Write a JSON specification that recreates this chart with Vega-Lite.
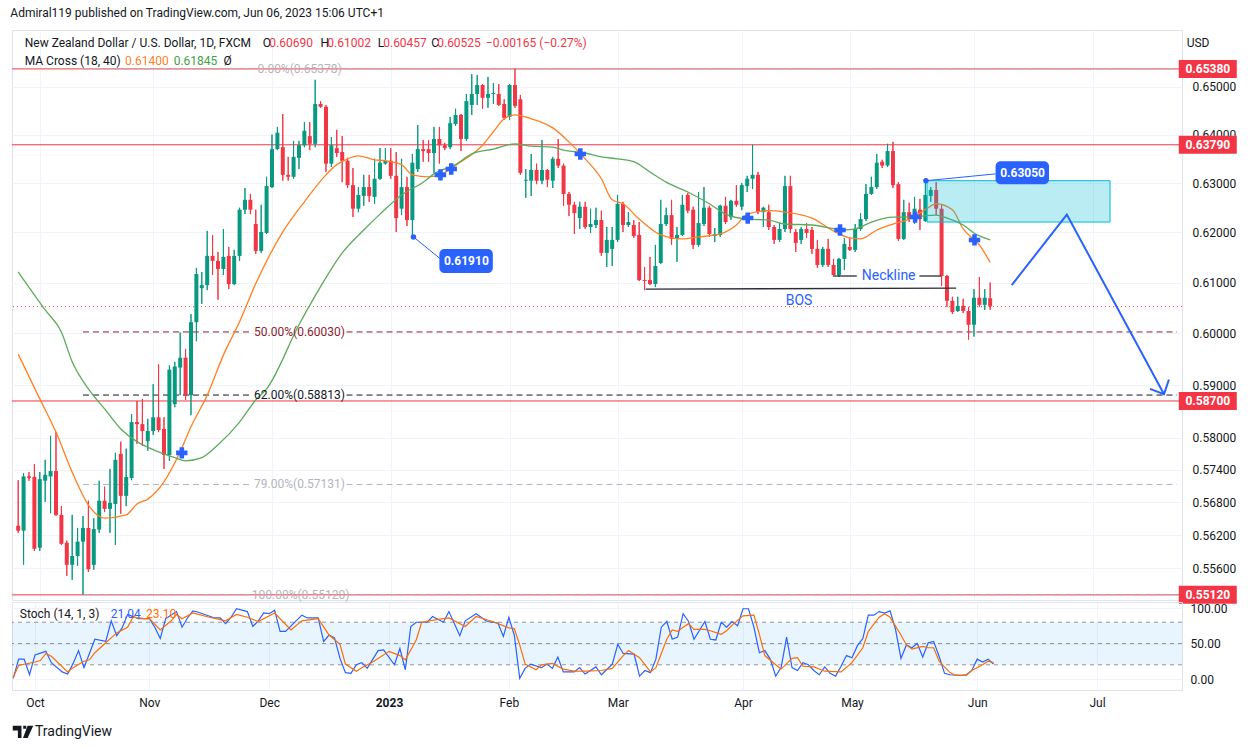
{
  "$schema": "https://vega.github.io/schema/vega-lite/v6.json",
  "description": "NZD/USD daily candles with MA cross, fibonacci levels, trade idea annotations and a stochastic panel",
  "background": "#ffffff",
  "padding": {"left": 10, "top": 6, "right": 0, "bottom": 0},
  "bounds": "flush",
  "spacing": 2,
  "title": {
    "text": "Admiral119 published on TradingView.com, Jun 06, 2023 15:06 UTC+1",
    "anchor": "start", "fontSize": 12, "fontWeight": "normal", "color": "#131722", "font": "Roboto", "offset": 10
  },
  "config": {
    "view": {"stroke": "#e0e3eb"},
    "axis": {"labelFont": "Roboto", "labelFontSize": 12, "labelColor": "#131722", "domain": false, "ticks": false, "tickSize": 0, "gridColor": "#f0f3fa", "gridWidth": 1},
    "text": {"font": "Roboto"}
  },
  "datasets": {
    "candles": [
      {"i":-4,"o":0.5637,"h":0.5721,"l":0.5624,"c":0.5628},
      {"i":-3,"o":0.5628,"h":0.5734,"l":0.5566,"c":0.5728},
      {"i":-2,"o":0.5728,"h":0.5736,"l":0.5720,"c":0.5725},
      {"i":-1,"o":0.5727,"h":0.5751,"l":0.5591,"c":0.5595},
      {"i":0,"o":0.5597,"h":0.5736,"l":0.5591,"c":0.5723},
      {"i":1,"o":0.5720,"h":0.5759,"l":0.5681,"c":0.5731},
      {"i":2,"o":0.5728,"h":0.5804,"l":0.5660,"c":0.5738},
      {"i":3,"o":0.5738,"h":0.5811,"l":0.5655,"c":0.5657},
      {"i":4,"o":0.5657,"h":0.5673,"l":0.5602,"c":0.5604},
      {"i":5,"o":0.5606,"h":0.5610,"l":0.5546,"c":0.5566},
      {"i":6,"o":0.5566,"h":0.5657,"l":0.5539,"c":0.5582},
      {"i":7,"o":0.5582,"h":0.5633,"l":0.5564,"c":0.5608},
      {"i":8,"o":0.5608,"h":0.5655,"l":0.5512,"c":0.5633},
      {"i":9,"o":0.5633,"h":0.5683,"l":0.5553,"c":0.5558},
      {"i":10,"o":0.5566,"h":0.5651,"l":0.5557,"c":0.5631},
      {"i":11,"o":0.5630,"h":0.5720,"l":0.5624,"c":0.5683},
      {"i":12,"o":0.5683,"h":0.5709,"l":0.5662,"c":0.5668},
      {"i":13,"o":0.5668,"h":0.5742,"l":0.5624,"c":0.5679},
      {"i":14,"o":0.5677,"h":0.5772,"l":0.5602,"c":0.5759},
      {"i":15,"o":0.5770,"h":0.5793,"l":0.5659,"c":0.5692},
      {"i":16,"o":0.5692,"h":0.5780,"l":0.5673,"c":0.5727},
      {"i":17,"o":0.5725,"h":0.5845,"l":0.5721,"c":0.5830},
      {"i":18,"o":0.5830,"h":0.5870,"l":0.5789,"c":0.5826},
      {"i":19,"o":0.5826,"h":0.5874,"l":0.5785,"c":0.5813},
      {"i":20,"o":0.5794,"h":0.5836,"l":0.5776,"c":0.5813},
      {"i":21,"o":0.5813,"h":0.5902,"l":0.5806,"c":0.5839},
      {"i":22,"o":0.5839,"h":0.5940,"l":0.5811,"c":0.5815},
      {"i":23,"o":0.5817,"h":0.5839,"l":0.5742,"c":0.5768},
      {"i":24,"o":0.5768,"h":0.5938,"l":0.5757,"c":0.5930},
      {"i":25,"o":0.5864,"h":0.5945,"l":0.5858,"c":0.5936},
      {"i":26,"o":0.5934,"h":0.6002,"l":0.5881,"c":0.5953},
      {"i":27,"o":0.5953,"h":0.5970,"l":0.5872,"c":0.5881},
      {"i":28,"o":0.5881,"h":0.6038,"l":0.5843,"c":0.6022},
      {"i":29,"o":0.6022,"h":0.6129,"l":0.5985,"c":0.6117},
      {"i":30,"o":0.6089,"h":0.6121,"l":0.6058,"c":0.6095},
      {"i":31,"o":0.6095,"h":0.6203,"l":0.6085,"c":0.6153},
      {"i":32,"o":0.6153,"h":0.6195,"l":0.6115,"c":0.6143},
      {"i":33,"o":0.6143,"h":0.6161,"l":0.6066,"c":0.6127},
      {"i":34,"o":0.6127,"h":0.6207,"l":0.6115,"c":0.6151},
      {"i":35,"o":0.6153,"h":0.6171,"l":0.6087,"c":0.6097},
      {"i":36,"o":0.6097,"h":0.6165,"l":0.6095,"c":0.6153},
      {"i":37,"o":0.6153,"h":0.6250,"l":0.6143,"c":0.6246},
      {"i":38,"o":0.6246,"h":0.6290,"l":0.6237,"c":0.6266},
      {"i":39,"o":0.6266,"h":0.6278,"l":0.6237,"c":0.6246},
      {"i":40,"o":0.6217,"h":0.6246,"l":0.6157,"c":0.6163},
      {"i":41,"o":0.6163,"h":0.6256,"l":0.6159,"c":0.6201},
      {"i":42,"o":0.6199,"h":0.6313,"l":0.6197,"c":0.6294},
      {"i":43,"o":0.6292,"h":0.6400,"l":0.6290,"c":0.6370},
      {"i":44,"o":0.6370,"h":0.6416,"l":0.6368,"c":0.6404},
      {"i":45,"o":0.6374,"h":0.6443,"l":0.6305,"c":0.6317},
      {"i":46,"o":0.6317,"h":0.6354,"l":0.6305,"c":0.6313},
      {"i":47,"o":0.6313,"h":0.6387,"l":0.6309,"c":0.6354},
      {"i":48,"o":0.6352,"h":0.6387,"l":0.6329,"c":0.6378},
      {"i":49,"o":0.6378,"h":0.6426,"l":0.6374,"c":0.6408},
      {"i":50,"o":0.6397,"h":0.6426,"l":0.6368,"c":0.6381},
      {"i":51,"o":0.6381,"h":0.6515,"l":0.6374,"c":0.6464},
      {"i":52,"o":0.6464,"h":0.6470,"l":0.6456,"c":0.6458},
      {"i":53,"o":0.6458,"h":0.6462,"l":0.6323,"c":0.6340},
      {"i":54,"o":0.6340,"h":0.6395,"l":0.6333,"c":0.6378},
      {"i":55,"o":0.6372,"h":0.6410,"l":0.6354,"c":0.6362},
      {"i":56,"o":0.6364,"h":0.6397,"l":0.6302,"c":0.6346},
      {"i":57,"o":0.6346,"h":0.6352,"l":0.6290,"c":0.6296},
      {"i":58,"o":0.6296,"h":0.6331,"l":0.6231,"c":0.6248},
      {"i":59,"o":0.6248,"h":0.6292,"l":0.6241,"c":0.6276},
      {"i":60,"o":0.6274,"h":0.6317,"l":0.6254,"c":0.6292},
      {"i":61,"o":0.6292,"h":0.6317,"l":0.6262,"c":0.6274},
      {"i":62,"o":0.6272,"h":0.6350,"l":0.6258,"c":0.6309},
      {"i":63,"o":0.6309,"h":0.6372,"l":0.6307,"c":0.6342},
      {"i":64,"o":0.6340,"h":0.6372,"l":0.6338,"c":0.6346},
      {"i":65,"o":0.6346,"h":0.6372,"l":0.6309,"c":0.6315},
      {"i":66,"o":0.6315,"h":0.6364,"l":0.6201,"c":0.6229},
      {"i":67,"o":0.6248,"h":0.6350,"l":0.6235,"c":0.6292},
      {"i":68,"o":0.6292,"h":0.6313,"l":0.6213,"c":0.6225},
      {"i":69,"o":0.6225,"h":0.6360,"l":0.6191,"c":0.6342},
      {"i":70,"o":0.6329,"h":0.6420,"l":0.6323,"c":0.6370},
      {"i":71,"o":0.6370,"h":0.6389,"l":0.6344,"c":0.6366},
      {"i":72,"o":0.6370,"h":0.6389,"l":0.6344,"c":0.6362},
      {"i":73,"o":0.6362,"h":0.6416,"l":0.6321,"c":0.6391},
      {"i":74,"o":0.6391,"h":0.6416,"l":0.6340,"c":0.6378},
      {"i":75,"o":0.6378,"h":0.6383,"l":0.6368,"c":0.6372},
      {"i":76,"o":0.6374,"h":0.6437,"l":0.6370,"c":0.6424},
      {"i":77,"o":0.6422,"h":0.6454,"l":0.6418,"c":0.6441},
      {"i":78,"o":0.6441,"h":0.6443,"l":0.6366,"c":0.6391},
      {"i":79,"o":0.6391,"h":0.6485,"l":0.6387,"c":0.6470},
      {"i":80,"o":0.6462,"h":0.6527,"l":0.6441,"c":0.6485},
      {"i":81,"o":0.6485,"h":0.6525,"l":0.6462,"c":0.6504},
      {"i":82,"o":0.6504,"h":0.6506,"l":0.6454,"c":0.6477},
      {"i":83,"o":0.6477,"h":0.6521,"l":0.6456,"c":0.6485},
      {"i":84,"o":0.6485,"h":0.6508,"l":0.6464,"c":0.6487},
      {"i":85,"o":0.6485,"h":0.6506,"l":0.6460,"c":0.6462},
      {"i":86,"o":0.6464,"h":0.6474,"l":0.6431,"c":0.6435},
      {"i":87,"o":0.6437,"h":0.6506,"l":0.6431,"c":0.6504},
      {"i":88,"o":0.6504,"h":0.6538,"l":0.6456,"c":0.6460},
      {"i":89,"o":0.6474,"h":0.6483,"l":0.6317,"c":0.6321},
      {"i":90,"o":0.6305,"h":0.6329,"l":0.6270,"c":0.6307},
      {"i":91,"o":0.6305,"h":0.6360,"l":0.6274,"c":0.6327},
      {"i":92,"o":0.6327,"h":0.6340,"l":0.6298,"c":0.6305},
      {"i":93,"o":0.6305,"h":0.6389,"l":0.6298,"c":0.6327},
      {"i":94,"o":0.6327,"h":0.6329,"l":0.6292,"c":0.6307},
      {"i":95,"o":0.6305,"h":0.6354,"l":0.6290,"c":0.6350},
      {"i":96,"o":0.6350,"h":0.6391,"l":0.6331,"c":0.6336},
      {"i":97,"o":0.6336,"h":0.6340,"l":0.6254,"c":0.6278},
      {"i":98,"o":0.6278,"h":0.6282,"l":0.6233,"c":0.6256},
      {"i":99,"o":0.6256,"h":0.6262,"l":0.6197,"c":0.6239},
      {"i":100,"o":0.6229,"h":0.6262,"l":0.6207,"c":0.6252},
      {"i":101,"o":0.6252,"h":0.6262,"l":0.6207,"c":0.6211},
      {"i":102,"o":0.6211,"h":0.6248,"l":0.6199,"c":0.6217},
      {"i":103,"o":0.6215,"h":0.6250,"l":0.6209,"c":0.6225},
      {"i":104,"o":0.6225,"h":0.6244,"l":0.6153,"c":0.6159},
      {"i":105,"o":0.6159,"h":0.6211,"l":0.6131,"c":0.6185},
      {"i":106,"o":0.6167,"h":0.6211,"l":0.6133,"c":0.6185},
      {"i":107,"o":0.6185,"h":0.6276,"l":0.6181,"c":0.6258},
      {"i":108,"o":0.6258,"h":0.6262,"l":0.6201,"c":0.6215},
      {"i":109,"o":0.6215,"h":0.6241,"l":0.6211,"c":0.6221},
      {"i":110,"o":0.6215,"h":0.6225,"l":0.6189,"c":0.6193},
      {"i":111,"o":0.6195,"h":0.6221,"l":0.6103,"c":0.6105},
      {"i":112,"o":0.6105,"h":0.6131,"l":0.6085,"c":0.6103},
      {"i":113,"o":0.6105,"h":0.6151,"l":0.6095,"c":0.6097},
      {"i":114,"o":0.6097,"h":0.6175,"l":0.6091,"c":0.6133},
      {"i":115,"o":0.6139,"h":0.6266,"l":0.6137,"c":0.6217},
      {"i":116,"o":0.6217,"h":0.6250,"l":0.6213,"c":0.6235},
      {"i":117,"o":0.6235,"h":0.6266,"l":0.6175,"c":0.6187},
      {"i":118,"o":0.6187,"h":0.6211,"l":0.6141,"c":0.6195},
      {"i":119,"o":0.6195,"h":0.6276,"l":0.6193,"c":0.6256},
      {"i":120,"o":0.6276,"h":0.6280,"l":0.6239,"c":0.6244},
      {"i":121,"o":0.6246,"h":0.6252,"l":0.6167,"c":0.6175},
      {"i":122,"o":0.6175,"h":0.6282,"l":0.6171,"c":0.6219},
      {"i":123,"o":0.6217,"h":0.6292,"l":0.6213,"c":0.6250},
      {"i":124,"o":0.6250,"h":0.6254,"l":0.6191,"c":0.6197},
      {"i":125,"o":0.6193,"h":0.6209,"l":0.6181,"c":0.6197},
      {"i":126,"o":0.6195,"h":0.6256,"l":0.6191,"c":0.6254},
      {"i":127,"o":0.6254,"h":0.6272,"l":0.6217,"c":0.6221},
      {"i":128,"o":0.6231,"h":0.6266,"l":0.6225,"c":0.6264},
      {"i":129,"o":0.6264,"h":0.6296,"l":0.6252,"c":0.6256},
      {"i":130,"o":0.6252,"h":0.6300,"l":0.6245,"c":0.6296},
      {"i":131,"o":0.6294,"h":0.6315,"l":0.6282,"c":0.6309},
      {"i":132,"o":0.6309,"h":0.6379,"l":0.6288,"c":0.6317},
      {"i":133,"o":0.6317,"h":0.6323,"l":0.6237,"c":0.6241},
      {"i":134,"o":0.6241,"h":0.6252,"l":0.6211,"c":0.6250},
      {"i":135,"o":0.6241,"h":0.6256,"l":0.6205,"c":0.6211},
      {"i":136,"o":0.6211,"h":0.6215,"l":0.6177,"c":0.6185},
      {"i":137,"o":0.6185,"h":0.6219,"l":0.6181,"c":0.6207},
      {"i":138,"o":0.6207,"h":0.6315,"l":0.6201,"c":0.6294},
      {"i":139,"o":0.6294,"h":0.6315,"l":0.6199,"c":0.6207},
      {"i":140,"o":0.6201,"h":0.6207,"l":0.6161,"c":0.6179},
      {"i":141,"o":0.6185,"h":0.6211,"l":0.6177,"c":0.6207},
      {"i":142,"o":0.6207,"h":0.6219,"l":0.6189,"c":0.6199},
      {"i":143,"o":0.6205,"h":0.6211,"l":0.6157,"c":0.6167},
      {"i":144,"o":0.6167,"h":0.6185,"l":0.6129,"c":0.6135},
      {"i":145,"o":0.6135,"h":0.6171,"l":0.6131,"c":0.6167},
      {"i":146,"o":0.6167,"h":0.6187,"l":0.6131,"c":0.6135},
      {"i":147,"o":0.6135,"h":0.6147,"l":0.6111,"c":0.6115},
      {"i":148,"o":0.6115,"h":0.6149,"l":0.6111,"c":0.6147},
      {"i":149,"o":0.6147,"h":0.6189,"l":0.6125,"c":0.6177},
      {"i":150,"o":0.6171,"h":0.6189,"l":0.6163,"c":0.6165},
      {"i":151,"o":0.6165,"h":0.6217,"l":0.6161,"c":0.6207},
      {"i":152,"o":0.6207,"h":0.6239,"l":0.6203,"c":0.6227},
      {"i":153,"o":0.6227,"h":0.6298,"l":0.6223,"c":0.6278},
      {"i":154,"o":0.6278,"h":0.6313,"l":0.6276,"c":0.6292},
      {"i":155,"o":0.6292,"h":0.6360,"l":0.6288,"c":0.6342},
      {"i":156,"o":0.6344,"h":0.6348,"l":0.6331,"c":0.6336},
      {"i":157,"o":0.6336,"h":0.6381,"l":0.6333,"c":0.6366},
      {"i":158,"o":0.6366,"h":0.6385,"l":0.6290,"c":0.6296},
      {"i":159,"o":0.6298,"h":0.6302,"l":0.6183,"c":0.6187},
      {"i":160,"o":0.6187,"h":0.6266,"l":0.6185,"c":0.6241},
      {"i":161,"o":0.6241,"h":0.6260,"l":0.6221,"c":0.6227},
      {"i":162,"o":0.6227,"h":0.6272,"l":0.6217,"c":0.6248},
      {"i":163,"o":0.6246,"h":0.6268,"l":0.6205,"c":0.6227},
      {"i":164,"o":0.6223,"h":0.6305,"l":0.6221,"c":0.6276},
      {"i":165,"o":0.6274,"h":0.6292,"l":0.6262,"c":0.6286},
      {"i":166,"o":0.6286,"h":0.6302,"l":0.6235,"c":0.6248},
      {"i":167,"o":0.6248,"h":0.6256,"l":0.6093,"c":0.6113},
      {"i":168,"o":0.6113,"h":0.6115,"l":0.6052,"c":0.6064},
      {"i":169,"o":0.6064,"h":0.6072,"l":0.6038,"c":0.6042},
      {"i":170,"o":0.6044,"h":0.6072,"l":0.6042,"c":0.6054},
      {"i":171,"o":0.6054,"h":0.6068,"l":0.6040,"c":0.6044},
      {"i":172,"o":0.6044,"h":0.6052,"l":0.5988,"c":0.6017},
      {"i":173,"o":0.6017,"h":0.6087,"l":0.5994,"c":0.6070},
      {"i":174,"o":0.6070,"h":0.6111,"l":0.6052,"c":0.6056},
      {"i":175,"o":0.6056,"h":0.6087,"l":0.6046,"c":0.6070},
      {"i":176,"o":0.6069,"h":0.6100,"l":0.6046,"c":0.6053}
    ],
    "ma": [
      {"i":-4,"v":0.5960,"s":"MA18"},{"i":0,"v":0.5874,"s":"MA18"},{"i":3,"v":0.5811,"s":"MA18"},{"i":6,"v":0.5736,"s":"MA18"},
      {"i":9,"v":0.5675,"s":"MA18"},{"i":12,"v":0.5651,"s":"MA18"},{"i":16,"v":0.5657,"s":"MA18"},{"i":18,"v":0.5677,"s":"MA18"},
      {"i":20,"v":0.5686,"s":"MA18"},{"i":23,"v":0.5718,"s":"MA18"},{"i":26,"v":0.5774,"s":"MA18"},{"i":28,"v":0.5821,"s":"MA18"},
      {"i":31,"v":0.5881,"s":"MA18"},{"i":34,"v":0.5958,"s":"MA18"},{"i":37,"v":0.6023,"s":"MA18"},{"i":40,"v":0.6098,"s":"MA18"},
      {"i":45,"v":0.6201,"s":"MA18"},{"i":49,"v":0.6262,"s":"MA18"},{"i":53,"v":0.6317,"s":"MA18"},{"i":55,"v":0.6338,"s":"MA18"},
      {"i":57,"v":0.6350,"s":"MA18"},{"i":59,"v":0.6356,"s":"MA18"},{"i":62,"v":0.6348,"s":"MA18"},{"i":64,"v":0.6346,"s":"MA18"},
      {"i":67,"v":0.6338,"s":"MA18"},{"i":69,"v":0.6317,"s":"MA18"},{"i":72,"v":0.6313,"s":"MA18"},{"i":74,"v":0.6317,"s":"MA18"},
      {"i":78,"v":0.6344,"s":"MA18"},{"i":82,"v":0.6378,"s":"MA18"},{"i":84,"v":0.6406,"s":"MA18"},{"i":86,"v":0.6433,"s":"MA18"},
      {"i":88,"v":0.6441,"s":"MA18"},{"i":91,"v":0.6433,"s":"MA18"},{"i":95,"v":0.6414,"s":"MA18"},{"i":98,"v":0.6385,"s":"MA18"},
      {"i":101,"v":0.6350,"s":"MA18"},{"i":104,"v":0.6309,"s":"MA18"},{"i":106,"v":0.6266,"s":"MA18"},{"i":108,"v":0.6258,"s":"MA18"},
      {"i":111,"v":0.6227,"s":"MA18"},{"i":115,"v":0.6195,"s":"MA18"},{"i":119,"v":0.6187,"s":"MA18"},{"i":122,"v":0.6191,"s":"MA18"},
      {"i":126,"v":0.6197,"s":"MA18"},{"i":129,"v":0.6215,"s":"MA18"},{"i":131,"v":0.6237,"s":"MA18"},{"i":135,"v":0.6244,"s":"MA18"},
      {"i":138,"v":0.6241,"s":"MA18"},{"i":143,"v":0.6229,"s":"MA18"},{"i":147,"v":0.6203,"s":"MA18"},{"i":150,"v":0.6189,"s":"MA18"},
      {"i":152,"v":0.6187,"s":"MA18"},{"i":155,"v":0.6205,"s":"MA18"},{"i":158,"v":0.6217,"s":"MA18"},{"i":161,"v":0.6227,"s":"MA18"},
      {"i":164,"v":0.6246,"s":"MA18"},{"i":166,"v":0.6258,"s":"MA18"},{"i":169,"v":0.6246,"s":"MA18"},{"i":171,"v":0.6207,"s":"MA18"},
      {"i":174,"v":0.6175,"s":"MA18"},{"i":176,"v":0.6140,"s":"MA18"},
      {"i":-4,"v":0.6121,"s":"MA40"},{"i":1,"v":0.6046,"s":"MA40"},{"i":4,"v":0.6003,"s":"MA40"},{"i":6,"v":0.5945,"s":"MA40"},
      {"i":9,"v":0.5893,"s":"MA40"},{"i":12,"v":0.5855,"s":"MA40"},{"i":15,"v":0.5817,"s":"MA40"},{"i":18,"v":0.5793,"s":"MA40"},
      {"i":21,"v":0.5778,"s":"MA40"},{"i":25,"v":0.5763,"s":"MA40"},{"i":27,"v":0.5757,"s":"MA40"},{"i":30,"v":0.5763,"s":"MA40"},
      {"i":33,"v":0.5787,"s":"MA40"},{"i":37,"v":0.5830,"s":"MA40"},{"i":40,"v":0.5872,"s":"MA40"},{"i":42,"v":0.5893,"s":"MA40"},
      {"i":48,"v":0.6017,"s":"MA40"},{"i":52,"v":0.6092,"s":"MA40"},{"i":56,"v":0.6159,"s":"MA40"},{"i":60,"v":0.6205,"s":"MA40"},
      {"i":63,"v":0.6237,"s":"MA40"},{"i":67,"v":0.6276,"s":"MA40"},{"i":71,"v":0.6302,"s":"MA40"},{"i":73,"v":0.6319,"s":"MA40"},
      {"i":77,"v":0.6338,"s":"MA40"},{"i":80,"v":0.6360,"s":"MA40"},{"i":84,"v":0.6370,"s":"MA40"},{"i":88,"v":0.6381,"s":"MA40"},
      {"i":91,"v":0.6376,"s":"MA40"},{"i":95,"v":0.6374,"s":"MA40"},{"i":97,"v":0.6368,"s":"MA40"},{"i":101,"v":0.6362,"s":"MA40"},
      {"i":104,"v":0.6354,"s":"MA40"},{"i":107,"v":0.6350,"s":"MA40"},{"i":110,"v":0.6344,"s":"MA40"},{"i":113,"v":0.6323,"s":"MA40"},
      {"i":116,"v":0.6302,"s":"MA40"},{"i":120,"v":0.6282,"s":"MA40"},{"i":124,"v":0.6258,"s":"MA40"},{"i":127,"v":0.6237,"s":"MA40"},
      {"i":131,"v":0.6227,"s":"MA40"},{"i":135,"v":0.6225,"s":"MA40"},{"i":138,"v":0.6217,"s":"MA40"},{"i":143,"v":0.6215,"s":"MA40"},
      {"i":149,"v":0.6205,"s":"MA40"},{"i":151,"v":0.6207,"s":"MA40"},{"i":154,"v":0.6221,"s":"MA40"},{"i":158,"v":0.6231,"s":"MA40"},
      {"i":161,"v":0.6231,"s":"MA40"},{"i":166,"v":0.6235,"s":"MA40"},{"i":168,"v":0.6229,"s":"MA40"},{"i":171,"v":0.6215,"s":"MA40"},
      {"i":173,"v":0.6199,"s":"MA40"},{"i":176,"v":0.6185,"s":"MA40"}
    ],
    "cross": [
      {"i":26.3,"p":0.5772},{"i":74.2,"p":0.6317},{"i":76.2,"p":0.6329},{"i":100.1,"p":0.6360},
      {"i":131.1,"p":0.6229},{"i":148.2,"p":0.6205},{"i":162.1,"p":0.6231},{"i":173.1,"p":0.6185}
    ],
    "hl": [{"p":0.6538},{"p":0.6379},{"p":0.5870},{"p":0.5512}],
    "fibseg": [
      {"i":8,"i2":39.3,"p":0.65378,"k":"gray"},{"i":56.8,"i2":210.6,"p":0.65378,"k":"gray"},
      {"i":8,"i2":39.3,"p":0.6003,"k":"darkred"},{"i":56.8,"i2":210.6,"p":0.6003,"k":"darkred"},
      {"i":8,"i2":39.3,"p":0.58813,"k":"black"},{"i":56.8,"i2":210.6,"p":0.58813,"k":"black"},
      {"i":8,"i2":39.3,"p":0.57131,"k":"gray"},{"i":56.8,"i2":210.6,"p":0.57131,"k":"gray"},
      {"i":8,"i2":39.3,"p":0.5512,"k":"gray"},{"i":57.5,"i2":210.6,"p":0.5512,"k":"gray"}
    ],
    "fiblab": [
      {"i":48.1,"p":0.65378,"t":"0.00%(0.65378)","k":"gray"},
      {"i":48.1,"p":0.6003,"t":"50.00%(0.60030)","k":"darkred"},
      {"i":48.1,"p":0.58813,"t":"62.00%(0.58813)","k":"black"},
      {"i":48.1,"p":0.57131,"t":"79.00%(0.57131)","k":"gray"},
      {"i":48.3,"p":0.5512,"t":"100.00%(0.55120)","k":"gray"}
    ],
    "cur": [{"p":0.60525}],
    "zone": [{"i":164.3,"i2":198.2,"p":0.6305,"p2":0.6221}],
    "cbox": [{"i":74.0,"i2":83.9,"p":0.6167,"p2":0.6119},{"i":177.0,"i2":186.9,"p":0.6345,"p2":0.6298}],
    "ctext": [{"i":79,"p":0.6143,"t":"0.61910"},{"i":182,"p":0.6321,"t":"0.63050"}],
    "clink": [
      {"g":1,"o":1,"i":69.2,"p":0.6191},{"g":1,"o":2,"i":74.2,"p":0.6147},
      {"g":2,"o":1,"i":164.1,"p":0.6305},{"g":2,"o":2,"i":177.0,"p":0.6319}
    ],
    "cdot": [{"i":69.2,"p":0.6191},{"i":164.1,"p":0.6305}],
    "struct": [
      {"g":"n1","i":147.1,"p":0.6113},{"g":"n1","i":151.3,"p":0.6113},
      {"g":"n2","i":162.9,"p":0.6113},{"g":"n2","i":166.9,"p":0.6113},
      {"g":"bos","i":112.2,"p":0.6087},{"g":"bos","i":169.7,"p":0.6089}
    ],
    "stext": [{"i":157.2,"p":0.6113,"t":"Neckline"},{"i":140.6,"p":0.6064,"t":"BOS"}],
    "arrow": [
      {"g":"a","o":1,"i":180.0,"p":0.6095},{"g":"a","o":2,"i":190.2,"p":0.6236},{"g":"a","o":3,"i":208.2,"p":0.5883},
      {"g":"h","o":1,"i":205.6,"p":0.5893},{"g":"h","o":2,"i":208.2,"p":0.5883},{"g":"h","o":3,"i":209.1,"p":0.5911}
    ],
    "hdr": [
      {"i":-2.79,"p":0.65932,"t":"New Zealand Dollar / U.S. Dollar, 1D, FXCM","k":"dark"},
      {"i":41.3,"p":0.65932,"t":"O","k":"dark"},
      {"i":42.5,"p":0.65932,"t":"0.60690","k":"red"},
      {"i":52.0,"p":0.65932,"t":"H","k":"dark"},
      {"i":53.25,"p":0.65932,"t":"0.61002","k":"red"},
      {"i":62.6,"p":0.65932,"t":"L","k":"dark"},
      {"i":63.6,"p":0.65932,"t":"0.60457","k":"red"},
      {"i":72.5,"p":0.65932,"t":"C","k":"dark"},
      {"i":73.6,"p":0.65932,"t":"0.60525","k":"red"},
      {"i":82.6,"p":0.65932,"t":"−0.00165 (−0.27%)","k":"red"},
      {"i":-2.79,"p":0.65548,"t":"MA Cross (18, 40)","k":"dark"},
      {"i":15.8,"p":0.65548,"t":"0.61400","k":"orange"},
      {"i":24.8,"p":0.65548,"t":"0.61845","k":"green"},
      {"i":34.0,"p":0.65548,"t":"Ø","k":"dark"}
    ],
    "rb": [{"p":0.6538,"t":"0.65380"},{"p":0.6379,"t":"0.63790"},{"p":0.5870,"t":"0.58700"},{"p":0.5512,"t":"0.55120"}],
    "usd": [{"i":214.5,"p":0.65932,"t":"USD"}],
    "stoch": [
      {"i":-4,"v":1,"s":"K"},{"i":-3,"v":28,"s":"K"},{"i":-2,"v":28,"s":"K"},{"i":-1,"v":6,"s":"K"},{"i":0,"v":34,"s":"K"},
      {"i":2,"v":39,"s":"K"},{"i":3,"v":23,"s":"K"},{"i":5,"v":10,"s":"K"},{"i":6,"v":7,"s":"K"},{"i":7,"v":22,"s":"K"},
      {"i":8,"v":40,"s":"K"},{"i":9,"v":16,"s":"K"},{"i":11,"v":56,"s":"K"},{"i":13,"v":53,"s":"K"},{"i":14,"v":82,"s":"K"},
      {"i":15,"v":61,"s":"K"},{"i":16,"v":72,"s":"K"},{"i":17,"v":91,"s":"K"},{"i":19,"v":85,"s":"K"},{"i":21,"v":85,"s":"K"},
      {"i":22,"v":73,"s":"K"},{"i":23,"v":57,"s":"K"},{"i":24,"v":85,"s":"K"},{"i":26,"v":95,"s":"K"},{"i":27,"v":73,"s":"K"},
      {"i":28,"v":86,"s":"K"},{"i":29,"v":96,"s":"K"},{"i":30,"v":94,"s":"K"},{"i":33,"v":86,"s":"K"},{"i":34,"v":86,"s":"K"},
      {"i":35,"v":78,"s":"K"},{"i":36,"v":87,"s":"K"},{"i":37,"v":99,"s":"K"},{"i":39,"v":95,"s":"K"},{"i":40,"v":74,"s":"K"},
      {"i":41,"v":82,"s":"K"},{"i":42,"v":93,"s":"K"},{"i":43,"v":92,"s":"K"},{"i":44,"v":97,"s":"K"},{"i":45,"v":67,"s":"K"},
      {"i":46,"v":67,"s":"K"},{"i":49,"v":90,"s":"K"},{"i":50,"v":86,"s":"K"},{"i":52,"v":86,"s":"K"},{"i":53,"v":53,"s":"K"},
      {"i":54,"v":62,"s":"K"},{"i":55,"v":58,"s":"K"},{"i":56,"v":29,"s":"K"},{"i":57,"v":9,"s":"K"},{"i":58,"v":8,"s":"K"},
      {"i":59,"v":20,"s":"K"},{"i":60,"v":23,"s":"K"},{"i":61,"v":15,"s":"K"},{"i":63,"v":40,"s":"K"},{"i":64,"v":41,"s":"K"},
      {"i":66,"v":20,"s":"K"},{"i":67,"v":43,"s":"K"},{"i":68,"v":13,"s":"K"},{"i":69,"v":74,"s":"K"},{"i":70,"v":80,"s":"K"},
      {"i":72,"v":80,"s":"K"},{"i":73,"v":88,"s":"K"},{"i":75,"v":80,"s":"K"},{"i":76,"v":95,"s":"K"},{"i":78,"v":61,"s":"K"},
      {"i":79,"v":82,"s":"K"},{"i":81,"v":92,"s":"K"},{"i":83,"v":81,"s":"K"},{"i":85,"v":79,"s":"K"},{"i":86,"v":60,"s":"K"},
      {"i":87,"v":87,"s":"K"},{"i":88,"v":62,"s":"K"},{"i":89,"v":1,"s":"K"},{"i":90,"v":15,"s":"K"},{"i":91,"v":21,"s":"K"},
      {"i":93,"v":16,"s":"K"},{"i":94,"v":21,"s":"K"},{"i":95,"v":15,"s":"K"},{"i":96,"v":31,"s":"K"},{"i":97,"v":10,"s":"K"},
      {"i":99,"v":10,"s":"K"},{"i":100,"v":16,"s":"K"},{"i":101,"v":7,"s":"K"},{"i":103,"v":17,"s":"K"},{"i":104,"v":6,"s":"K"},
      {"i":106,"v":21,"s":"K"},{"i":107,"v":49,"s":"K"},{"i":108,"v":36,"s":"K"},{"i":110,"v":35,"s":"K"},{"i":111,"v":4,"s":"K"},
      {"i":112,"v":12,"s":"K"},{"i":113,"v":9,"s":"K"},{"i":114,"v":28,"s":"K"},{"i":115,"v":73,"s":"K"},{"i":116,"v":81,"s":"K"},
      {"i":117,"v":56,"s":"K"},{"i":118,"v":59,"s":"K"},{"i":119,"v":92,"s":"K"},{"i":120,"v":81,"s":"K"},{"i":121,"v":56,"s":"K"},
      {"i":123,"v":81,"s":"K"},{"i":124,"v":56,"s":"K"},{"i":125,"v":55,"s":"K"},{"i":126,"v":80,"s":"K"},{"i":127,"v":73,"s":"K"},
      {"i":128,"v":81,"s":"K"},{"i":129,"v":75,"s":"K"},{"i":130,"v":99,"s":"K"},{"i":131,"v":99,"s":"K"},{"i":132,"v":73,"s":"K"},
      {"i":133,"v":37,"s":"K"},{"i":134,"v":40,"s":"K"},{"i":135,"v":28,"s":"K"},{"i":136,"v":4,"s":"K"},{"i":137,"v":16,"s":"K"},
      {"i":138,"v":59,"s":"K"},{"i":139,"v":16,"s":"K"},{"i":140,"v":12,"s":"K"},{"i":141,"v":23,"s":"K"},{"i":142,"v":20,"s":"K"},
      {"i":143,"v":12,"s":"K"},{"i":144,"v":6,"s":"K"},{"i":145,"v":17,"s":"K"},{"i":146,"v":8,"s":"K"},{"i":147,"v":4,"s":"K"},
      {"i":148,"v":18,"s":"K"},{"i":149,"v":33,"s":"K"},{"i":150,"v":30,"s":"K"},{"i":151,"v":47,"s":"K"},{"i":152,"v":57,"s":"K"},
      {"i":153,"v":90,"s":"K"},{"i":154,"v":90,"s":"K"},{"i":155,"v":95,"s":"K"},{"i":156,"v":93,"s":"K"},{"i":157,"v":96,"s":"K"},
      {"i":158,"v":70,"s":"K"},{"i":159,"v":29,"s":"K"},{"i":160,"v":48,"s":"K"},{"i":161,"v":44,"s":"K"},{"i":162,"v":50,"s":"K"},
      {"i":163,"v":31,"s":"K"},{"i":164,"v":51,"s":"K"},{"i":165,"v":53,"s":"K"},{"i":166,"v":32,"s":"K"},{"i":167,"v":8,"s":"K"},
      {"i":168,"v":6,"s":"K"},{"i":170,"v":5,"s":"K"},{"i":171,"v":6,"s":"K"},{"i":172,"v":12,"s":"K"},{"i":173,"v":28,"s":"K"},
      {"i":174,"v":24,"s":"K"},{"i":175,"v":28,"s":"K"},{"i":176,"v":21.04,"s":"K"},
      {"i":-4,"v":2,"s":"D"},{"i":-3,"v":19,"s":"D"},{"i":0,"v":24,"s":"D"},{"i":1,"v":26,"s":"D"},{"i":2,"v":36,"s":"D"},
      {"i":3,"v":32,"s":"D"},{"i":6,"v":10,"s":"D"},{"i":7,"v":16,"s":"D"},{"i":9,"v":25,"s":"D"},{"i":10,"v":27,"s":"D"},
      {"i":11,"v":37,"s":"D"},{"i":13,"v":51,"s":"D"},{"i":14,"v":58,"s":"D"},{"i":15,"v":65,"s":"D"},{"i":17,"v":73,"s":"D"},
      {"i":18,"v":87,"s":"D"},{"i":20,"v":85,"s":"D"},{"i":21,"v":85,"s":"D"},{"i":23,"v":69,"s":"D"},{"i":25,"v":82,"s":"D"},
      {"i":26,"v":91,"s":"D"},{"i":27,"v":85,"s":"D"},{"i":29,"v":93,"s":"D"},{"i":32,"v":87,"s":"D"},{"i":35,"v":82,"s":"D"},
      {"i":37,"v":91,"s":"D"},{"i":39,"v":87,"s":"D"},{"i":41,"v":81,"s":"D"},{"i":44,"v":93,"s":"D"},{"i":47,"v":69,"s":"D"},
      {"i":49,"v":82,"s":"D"},{"i":52,"v":85,"s":"D"},{"i":54,"v":62,"s":"D"},{"i":56,"v":49,"s":"D"},{"i":57,"v":21,"s":"D"},
      {"i":59,"v":11,"s":"D"},{"i":60,"v":16,"s":"D"},{"i":62,"v":24,"s":"D"},{"i":65,"v":39,"s":"D"},{"i":67,"v":33,"s":"D"},
      {"i":68,"v":27,"s":"D"},{"i":70,"v":55,"s":"D"},{"i":71,"v":80,"s":"D"},{"i":74,"v":84,"s":"D"},{"i":76,"v":86,"s":"D"},
      {"i":79,"v":74,"s":"D"},{"i":81,"v":88,"s":"D"},{"i":84,"v":81,"s":"D"},{"i":87,"v":72,"s":"D"},{"i":88,"v":71,"s":"D"},
      {"i":89,"v":48,"s":"D"},{"i":90,"v":21,"s":"D"},{"i":92,"v":13,"s":"D"},{"i":93,"v":20,"s":"D"},{"i":95,"v":22,"s":"D"},
      {"i":97,"v":14,"s":"D"},{"i":99,"v":11,"s":"D"},{"i":101,"v":11,"s":"D"},{"i":104,"v":12,"s":"D"},{"i":106,"v":15,"s":"D"},
      {"i":108,"v":33,"s":"D"},{"i":109,"v":40,"s":"D"},{"i":111,"v":30,"s":"D"},{"i":113,"v":10,"s":"D"},{"i":114,"v":16,"s":"D"},
      {"i":116,"v":56,"s":"D"},{"i":117,"v":69,"s":"D"},{"i":118,"v":67,"s":"D"},{"i":119,"v":73,"s":"D"},{"i":120,"v":78,"s":"D"},
      {"i":121,"v":70,"s":"D"},{"i":123,"v":70,"s":"D"},{"i":124,"v":68,"s":"D"},{"i":126,"v":63,"s":"D"},{"i":127,"v":68,"s":"D"},
      {"i":128,"v":76,"s":"D"},{"i":130,"v":89,"s":"D"},{"i":132,"v":90,"s":"D"},{"i":133,"v":63,"s":"D"},{"i":134,"v":33,"s":"D"},
      {"i":136,"v":20,"s":"D"},{"i":137,"v":14,"s":"D"},{"i":139,"v":29,"s":"D"},{"i":140,"v":30,"s":"D"},{"i":141,"v":18,"s":"D"},
      {"i":143,"v":17,"s":"D"},{"i":145,"v":11,"s":"D"},{"i":148,"v":10,"s":"D"},{"i":150,"v":23,"s":"D"},{"i":152,"v":44,"s":"D"},
      {"i":153,"v":67,"s":"D"},{"i":155,"v":87,"s":"D"},{"i":156,"v":92,"s":"D"},{"i":157,"v":87,"s":"D"},{"i":159,"v":62,"s":"D"},
      {"i":160,"v":48,"s":"D"},{"i":161,"v":42,"s":"D"},{"i":163,"v":46,"s":"D"},{"i":164,"v":44,"s":"D"},{"i":165,"v":44,"s":"D"},
      {"i":166,"v":25,"s":"D"},{"i":168,"v":9,"s":"D"},{"i":169,"v":5,"s":"D"},{"i":171,"v":5,"s":"D"},{"i":172,"v":12,"s":"D"},
      {"i":174,"v":20,"s":"D"},{"i":175,"v":25,"s":"D"},{"i":176,"v":23.1,"s":"D"}
    ],
    "band": [{"hi":80,"lo":20}],
    "slev": [{"v":80},{"v":50},{"v":20}],
    "shdr": [
      {"i":-2.79,"v":91.5,"t":"Stoch (14, 1, 3)","k":"dark"},
      {"i":13.9,"v":91.5,"t":"21.04","k":"blue"},
      {"i":20.4,"v":91.5,"t":"23.10","k":"orange"}
    ],
    "brand": [{"i":0.0,"v":-74.6,"t":"TradingView"}],
    "logo": [{"i":-2.2,"v":-74.6}]
  },
  "vconcat": [
    {
      "width": 1170,
      "height": 570,
      "resolve": {"scale": {"color": "independent"}},
      "layer": [
        {
          "data": {"name": "candles"},
          "mark": {"type": "rule", "strokeWidth": 1},
          "encoding": {
            "x": {
              "field": "i", "type": "quantitative", "title": null,
              "scale": {"domain": [-4.22, 210.6], "nice": false, "zero": false},
              "axis": {"values": [0, 21, 43, 65, 87, 107, 130, 150, 173, 195], "labels": false, "grid": true, "orient": "bottom", "title": null}
            },
            "y": {
              "field": "l", "type": "quantitative", "title": null,
              "scale": {"type": "log", "domain": [0.55028, 0.66211], "nice": false},
              "axis": {"orient": "right", "values": [0.556, 0.562, 0.568, 0.574, 0.58, 0.59, 0.6, 0.61, 0.62, 0.63, 0.64, 0.65], "format": ".5f", "grid": true, "labelPadding": 10, "title": null}
            },
            "y2": {"field": "h"},
            "color": {"condition": {"test": "datum.c >= datum.o", "value": "#089981"}, "value": "#f23645"}
          }
        },
        {
          "data": {"name": "hl"},
          "mark": {"type": "rule", "color": "#f23645", "strokeWidth": 1},
          "encoding": {
            "y": {"field": "p", "type": "quantitative", "title": null, "scale": {"type": "log", "domain": [0.55028, 0.66211], "nice": false}}
          }
        },
        {
          "data": {"name": "fibseg"},
          "mark": {"type": "rule", "strokeWidth": 1, "strokeDash": [6, 4]},
          "encoding": {
            "x": {"field": "i", "type": "quantitative", "title": null, "scale": {"domain": [-4.22, 210.6], "nice": false, "zero": false}},
            "x2": {"field": "i2"},
            "y": {"field": "p", "type": "quantitative", "title": null, "scale": {"type": "log", "domain": [0.55028, 0.66211], "nice": false}},
            "color": {"field": "k", "type": "nominal", "scale": {"domain": ["gray", "darkred", "black"], "range": ["#b2b5be", "#8b1e2d", "#131722"]}, "legend": null}
          }
        },
        {
          "data": {"name": "cur"},
          "mark": {"type": "rule", "color": "#f23645", "strokeWidth": 1, "strokeDash": [1, 3]},
          "encoding": {
            "y": {"field": "p", "type": "quantitative", "title": null, "scale": {"type": "log", "domain": [0.55028, 0.66211], "nice": false}}
          }
        },
        {
          "data": {"name": "candles"},
          "mark": {"type": "rule", "strokeWidth": 1},
          "encoding": {
            "x": {"field": "i", "type": "quantitative", "title": null, "scale": {"domain": [-4.22, 210.6], "nice": false, "zero": false}},
            "y": {"field": "l", "type": "quantitative", "title": null, "scale": {"type": "log", "domain": [0.55028, 0.66211], "nice": false}},
            "y2": {"field": "h"},
            "color": {"condition": {"test": "datum.c >= datum.o", "value": "#089981"}, "value": "#f23645"}
          }
        },
        {
          "data": {"name": "candles"},
          "mark": {"type": "bar", "size": 4},
          "encoding": {
            "x": {"field": "i", "type": "quantitative", "title": null, "scale": {"domain": [-4.22, 210.6], "nice": false, "zero": false}},
            "y": {"field": "o", "type": "quantitative", "title": null, "scale": {"type": "log", "domain": [0.55028, 0.66211], "nice": false}},
            "y2": {"field": "c"},
            "color": {"condition": {"test": "datum.c >= datum.o", "value": "#089981"}, "value": "#f23645"}
          }
        },
        {
          "data": {"name": "ma"},
          "mark": {"type": "line", "strokeWidth": 1.3, "interpolate": "monotone"},
          "encoding": {
            "x": {"field": "i", "type": "quantitative", "title": null, "scale": {"domain": [-4.22, 210.6], "nice": false, "zero": false}},
            "y": {"field": "v", "type": "quantitative", "title": null, "scale": {"type": "log", "domain": [0.55028, 0.66211], "nice": false}},
            "color": {"field": "s", "type": "nominal", "scale": {"domain": ["MA18", "MA40"], "range": ["#ff7f21", "#5cab5a"]}, "legend": null}
          }
        },
        {
          "data": {"name": "zone"},
          "mark": {"type": "rect", "fill": "#00bcd4", "fillOpacity": 0.27, "stroke": "#00bcd4", "strokeWidth": 1},
          "encoding": {
            "x": {"field": "i", "type": "quantitative", "title": null, "scale": {"domain": [-4.22, 210.6], "nice": false, "zero": false}},
            "x2": {"field": "i2"},
            "y": {"field": "p", "type": "quantitative", "title": null, "scale": {"type": "log", "domain": [0.55028, 0.66211], "nice": false}},
            "y2": {"field": "p2"}
          }
        },
        {
          "data": {"name": "cross"},
          "mark": {"type": "point", "shape": "cross", "filled": true, "size": 130, "color": "#2962ff", "opacity": 1},
          "encoding": {
            "x": {"field": "i", "type": "quantitative", "title": null, "scale": {"domain": [-4.22, 210.6], "nice": false, "zero": false}},
            "y": {"field": "p", "type": "quantitative", "title": null, "scale": {"type": "log", "domain": [0.55028, 0.66211], "nice": false}}
          }
        },
        {
          "data": {"name": "clink"},
          "mark": {"type": "line", "color": "#2962ff", "strokeWidth": 1},
          "encoding": {
            "x": {"field": "i", "type": "quantitative", "title": null, "scale": {"domain": [-4.22, 210.6], "nice": false, "zero": false}},
            "y": {"field": "p", "type": "quantitative", "title": null, "scale": {"type": "log", "domain": [0.55028, 0.66211], "nice": false}},
            "detail": {"field": "g"},
            "order": {"field": "o"}
          }
        },
        {
          "data": {"name": "cdot"},
          "mark": {"type": "point", "shape": "circle", "filled": true, "size": 30, "color": "#2962ff", "opacity": 1},
          "encoding": {
            "x": {"field": "i", "type": "quantitative", "title": null, "scale": {"domain": [-4.22, 210.6], "nice": false, "zero": false}},
            "y": {"field": "p", "type": "quantitative", "title": null, "scale": {"type": "log", "domain": [0.55028, 0.66211], "nice": false}}
          }
        },
        {
          "data": {"name": "cbox"},
          "mark": {"type": "rect", "fill": "#2962ff", "cornerRadius": 5},
          "encoding": {
            "x": {"field": "i", "type": "quantitative", "title": null, "scale": {"domain": [-4.22, 210.6], "nice": false, "zero": false}},
            "x2": {"field": "i2"},
            "y": {"field": "p", "type": "quantitative", "title": null, "scale": {"type": "log", "domain": [0.55028, 0.66211], "nice": false}},
            "y2": {"field": "p2"}
          }
        },
        {
          "data": {"name": "ctext"},
          "mark": {"type": "text", "color": "#ffffff", "fontSize": 12, "fontWeight": "bold", "align": "center", "baseline": "middle"},
          "encoding": {
            "x": {"field": "i", "type": "quantitative", "title": null, "scale": {"domain": [-4.22, 210.6], "nice": false, "zero": false}},
            "y": {"field": "p", "type": "quantitative", "title": null, "scale": {"type": "log", "domain": [0.55028, 0.66211], "nice": false}},
            "text": {"field": "t"}
          }
        },
        {
          "data": {"name": "struct"},
          "mark": {"type": "line", "color": "#2a2e39", "strokeWidth": 1.3},
          "encoding": {
            "x": {"field": "i", "type": "quantitative", "title": null, "scale": {"domain": [-4.22, 210.6], "nice": false, "zero": false}},
            "y": {"field": "p", "type": "quantitative", "title": null, "scale": {"type": "log", "domain": [0.55028, 0.66211], "nice": false}},
            "detail": {"field": "g"}
          }
        },
        {
          "data": {"name": "stext"},
          "mark": {"type": "text", "color": "#2962ff", "fontSize": 14, "align": "center", "baseline": "middle"},
          "encoding": {
            "x": {"field": "i", "type": "quantitative", "title": null, "scale": {"domain": [-4.22, 210.6], "nice": false, "zero": false}},
            "y": {"field": "p", "type": "quantitative", "title": null, "scale": {"type": "log", "domain": [0.55028, 0.66211], "nice": false}},
            "text": {"field": "t"}
          }
        },
        {
          "data": {"name": "arrow"},
          "mark": {"type": "line", "color": "#2962ff", "strokeWidth": 2},
          "encoding": {
            "x": {"field": "i", "type": "quantitative", "title": null, "scale": {"domain": [-4.22, 210.6], "nice": false, "zero": false}},
            "y": {"field": "p", "type": "quantitative", "title": null, "scale": {"type": "log", "domain": [0.55028, 0.66211], "nice": false}},
            "detail": {"field": "g"},
            "order": {"field": "o"}
          }
        },
        {
          "data": {"name": "fiblab"},
          "mark": {"type": "text", "fontSize": 12, "align": "center", "baseline": "middle"},
          "encoding": {
            "x": {"field": "i", "type": "quantitative", "title": null, "scale": {"domain": [-4.22, 210.6], "nice": false, "zero": false}},
            "y": {"field": "p", "type": "quantitative", "title": null, "scale": {"type": "log", "domain": [0.55028, 0.66211], "nice": false}},
            "text": {"field": "t"},
            "color": {"field": "k", "type": "nominal", "scale": {"domain": ["gray", "darkred", "black"], "range": ["#b2b5be", "#8b1e2d", "#131722"]}, "legend": null}
          }
        },
        {
          "data": {"name": "hdr"},
          "mark": {"type": "text", "fontSize": 12, "align": "left", "baseline": "middle"},
          "encoding": {
            "x": {"field": "i", "type": "quantitative", "title": null, "scale": {"domain": [-4.22, 210.6], "nice": false, "zero": false}},
            "y": {"field": "p", "type": "quantitative", "title": null, "scale": {"type": "log", "domain": [0.55028, 0.66211], "nice": false}},
            "text": {"field": "t"},
            "color": {"field": "k", "type": "nominal", "scale": {"domain": ["dark", "red", "orange", "green"], "range": ["#131722", "#f23645", "#ff7f21", "#43a047"]}, "legend": null}
          }
        },
        {
          "data": {"name": "rb"},
          "mark": {"type": "point", "shape": "M-1,-0.31H1V0.31H-1Z", "filled": true, "size": 3364, "color": "#f23645", "opacity": 1},
          "encoding": {
            "x": {"datum": 216.3, "type": "quantitative", "title": null, "scale": {"domain": [-4.22, 210.6], "nice": false, "zero": false}},
            "y": {"field": "p", "type": "quantitative", "title": null, "scale": {"type": "log", "domain": [0.55028, 0.66211], "nice": false}}
          }
        },
        {
          "data": {"name": "rb"},
          "mark": {"type": "text", "color": "#ffffff", "fontSize": 12, "fontWeight": "bold", "align": "center", "baseline": "middle"},
          "encoding": {
            "x": {"datum": 216.3, "type": "quantitative", "title": null, "scale": {"domain": [-4.22, 210.6], "nice": false, "zero": false}},
            "y": {"field": "p", "type": "quantitative", "title": null, "scale": {"type": "log", "domain": [0.55028, 0.66211], "nice": false}},
            "text": {"field": "t"}
          }
        },
        {
          "data": {"name": "usd"},
          "mark": {"type": "text", "color": "#131722", "fontSize": 12, "align": "center", "baseline": "middle"},
          "encoding": {
            "x": {"field": "i", "type": "quantitative", "title": null, "scale": {"domain": [-4.22, 210.6], "nice": false, "zero": false}},
            "y": {"field": "p", "type": "quantitative", "title": null, "scale": {"type": "log", "domain": [0.55028, 0.66211], "nice": false}},
            "text": {"field": "t"}
          }
        }
      ]
    },
    {
      "width": 1170,
      "height": 88,
      "resolve": {"scale": {"color": "independent"}},
      "layer": [
        {
          "data": {"name": "stoch"},
          "mark": {"type": "line", "strokeWidth": 1.2, "opacity": 0},
          "encoding": {
            "x": {
              "field": "i", "type": "quantitative", "title": null,
              "scale": {"domain": [-4.22, 210.6], "nice": false, "zero": false},
              "axis": {
                "orient": "bottom", "grid": true, "labelPadding": 7, "title": null,
                "values": [0, 21, 43, 65, 87, 107, 130, 150, 173, 195],
                "labelExpr": "datum.value == 0 ? 'Oct' : datum.value == 21 ? 'Nov' : datum.value == 43 ? 'Dec' : datum.value == 65 ? '2023' : datum.value == 87 ? 'Feb' : datum.value == 107 ? 'Mar' : datum.value == 130 ? 'Apr' : datum.value == 150 ? 'May' : datum.value == 173 ? 'Jun' : 'Jul'",
                "labelFontWeight": {"condition": {"test": "datum.value == 65", "value": "bold"}, "value": "normal"}
              }
            },
            "y": {
              "field": "v", "type": "quantitative", "title": null,
              "scale": {"domain": [-15.5, 108.5], "nice": false, "zero": false},
              "axis": {"orient": "right", "values": [0, 50, 100], "format": ".2f", "grid": true, "labelPadding": 8, "title": null}
            },
            "detail": {"field": "s"}
          }
        },
        {
          "data": {"name": "band"},
          "mark": {"type": "rect", "fill": "#2196f3", "fillOpacity": 0.1},
          "encoding": {
            "y": {"field": "hi", "type": "quantitative", "title": null, "scale": {"domain": [-15.5, 108.5], "nice": false, "zero": false}},
            "y2": {"field": "lo"}
          }
        },
        {
          "data": {"name": "slev"},
          "mark": {"type": "rule", "color": "#787b86", "strokeWidth": 1, "strokeDash": [4, 4], "opacity": 0.8},
          "encoding": {
            "y": {"field": "v", "type": "quantitative", "title": null, "scale": {"domain": [-15.5, 108.5], "nice": false, "zero": false}}
          }
        },
        {
          "data": {"name": "stoch"},
          "mark": {"type": "line", "strokeWidth": 1.2},
          "encoding": {
            "x": {"field": "i", "type": "quantitative", "title": null, "scale": {"domain": [-4.22, 210.6], "nice": false, "zero": false}},
            "y": {"field": "v", "type": "quantitative", "title": null, "scale": {"domain": [-15.5, 108.5], "nice": false, "zero": false}},
            "color": {"field": "s", "type": "nominal", "scale": {"domain": ["K", "D"], "range": ["#2962ff", "#ff6d00"]}, "legend": null}
          }
        },
        {
          "data": {"name": "shdr"},
          "mark": {"type": "text", "fontSize": 12, "align": "left", "baseline": "middle"},
          "encoding": {
            "x": {"field": "i", "type": "quantitative", "title": null, "scale": {"domain": [-4.22, 210.6], "nice": false, "zero": false}},
            "y": {"field": "v", "type": "quantitative", "title": null, "scale": {"domain": [-15.5, 108.5], "nice": false, "zero": false}},
            "text": {"field": "t"},
            "color": {"field": "k", "type": "nominal", "scale": {"domain": ["dark", "blue", "orange"], "range": ["#131722", "#2962ff", "#ff6d00"]}, "legend": null}
          }
        },
        {
          "data": {"name": "logo"},
          "mark": {"type": "point", "shape": "M-1,-0.6H-0.15V0.6H-0.5V-0.15H-1Z M0.02,-0.6H0.32V-0.3H0.02Z M0.45,-0.6H1L0.45,0.6H0.0Z", "filled": true, "size": 420, "color": "#131722", "opacity": 1},
          "encoding": {
            "x": {"field": "i", "type": "quantitative", "title": null, "scale": {"domain": [-4.22, 210.6], "nice": false, "zero": false}},
            "y": {"field": "v", "type": "quantitative", "title": null, "scale": {"domain": [-15.5, 108.5], "nice": false, "zero": false}}
          }
        },
        {
          "data": {"name": "brand"},
          "mark": {"type": "text", "fontSize": 14, "align": "left", "baseline": "middle", "color": "#131722"},
          "encoding": {
            "x": {"field": "i", "type": "quantitative", "title": null, "scale": {"domain": [-4.22, 210.6], "nice": false, "zero": false}},
            "y": {"field": "v", "type": "quantitative", "title": null, "scale": {"domain": [-15.5, 108.5], "nice": false, "zero": false}},
            "text": {"field": "t"}
          }
        }
      ]
    }
  ]
}
